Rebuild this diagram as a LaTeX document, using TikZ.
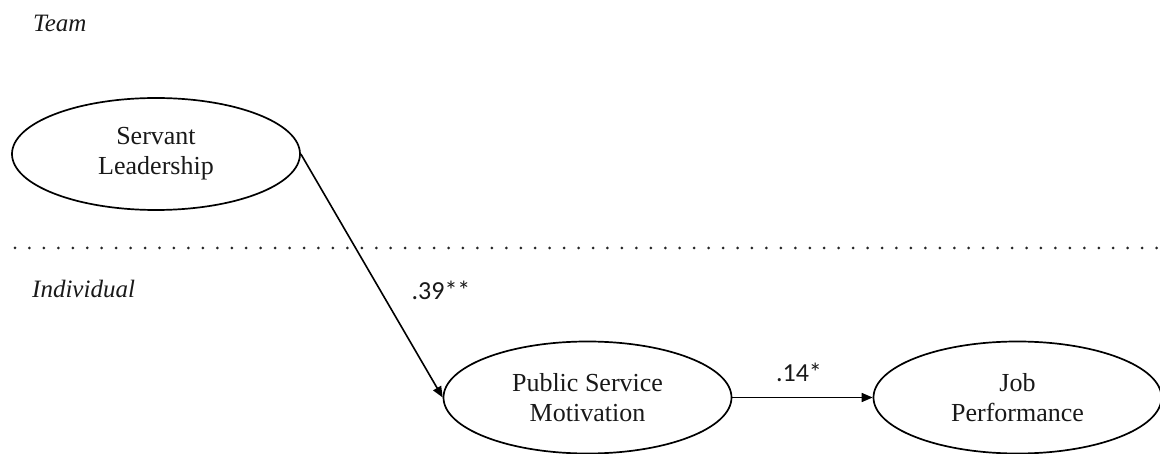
\documentclass[tikz,border=0pt]{standalone}
\usepackage{fontspec}
\setmainfont{Liberation Serif}
\newfontfamily\labfont{Carlito}
\usetikzlibrary{shapes.geometric,arrows.meta}
\begin{document}
\begin{tikzpicture}[x=1pt,y=-1pt,
  latent/.style={ellipse,draw=black,line width=1.7pt,minimum width=288pt,minimum height=112pt,inner sep=0pt,align=center,font=\fontsize{26}{30}\selectfont,text=black!90},
  level/.style={anchor=base west,font=\fontsize{25}{30}\selectfont\itshape,text=black!90,inner sep=0pt},
  coef/.style={anchor=base,font=\labfont\fontsize{26}{30}\selectfont,text=black!90,inner sep=0pt},
  path/.style={draw=black,line width=1.6pt,-{Triangle[length=11pt,width=9pt]}}]
\useasboundingbox (0,0) rectangle (1160,454);
\node[level] (team) at (33,32) {Team};
\node[level] (indiv) at (32,298) {Individual};
\draw[black!85,line width=3pt,line cap=round,dash pattern=on 0pt off 14.45pt] (15,248) -- (1160,248);
\node[latent] (sl) at (156,154) {Servant\\Leadership};
\node[latent] (psm) at (587.5,397.5) {Public Service\\Motivation};
\node[latent] (jp) at (1017.5,397.5) {Job\\Performance};
\draw[path] (sl.east) -- (psm.west);
\draw[path] (psm.east) -- (jp.west);
\node[coef] (c1) at (441,300) {.39**};
\node[coef] (c2) at (799,382) {.14*};
\end{tikzpicture}
\end{document}
